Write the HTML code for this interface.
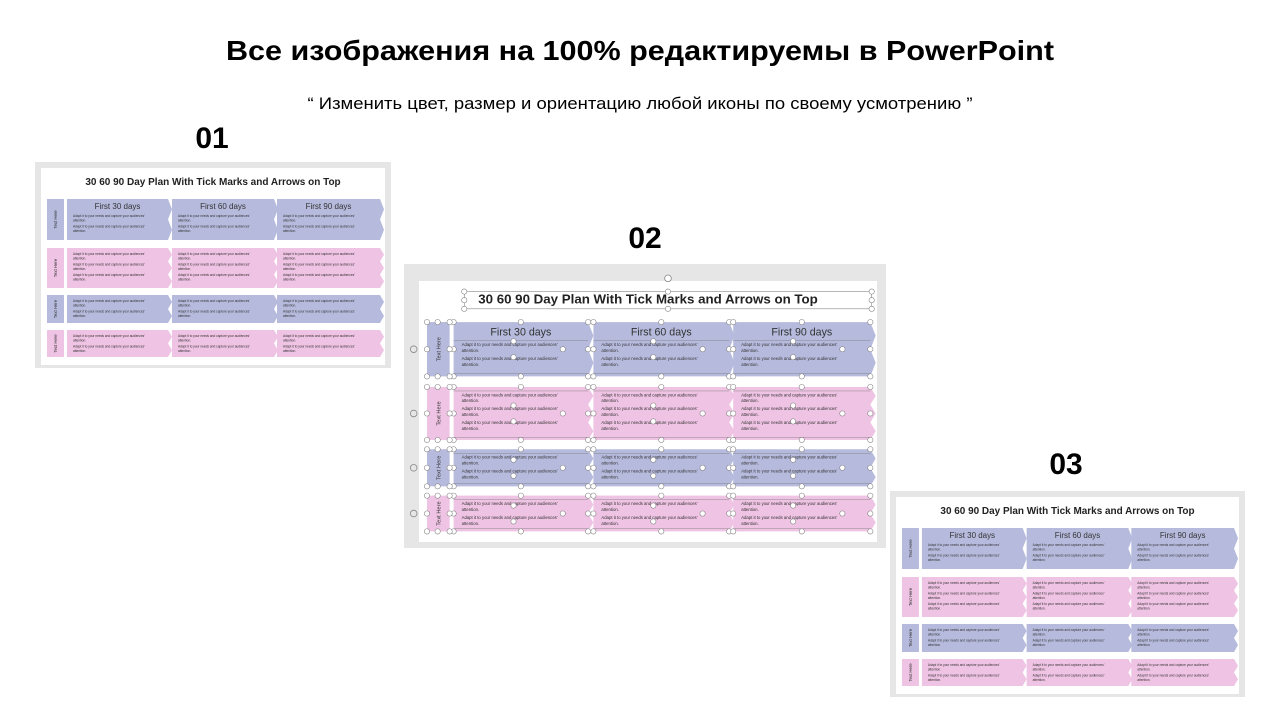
<!DOCTYPE html>
<html><head><meta charset="utf-8"><style>
html,body{margin:0;padding:0;background:#fff;width:1280px;height:720px;overflow:hidden}
svg{display:block}
</style></head><body>
<svg id="s" width="1280" height="720" xmlns="http://www.w3.org/2000/svg" font-family="'Liberation Sans', 'DejaVu Sans', sans-serif">
<text x="640" y="60" text-anchor="middle" font-size="28" font-weight="bold" textLength="828" lengthAdjust="spacingAndGlyphs">Все изображения на 100% редактируемы в PowerPoint</text>
<text x="640" y="109" text-anchor="middle" font-size="17" textLength="665" lengthAdjust="spacingAndGlyphs">“ Изменить цвет, размер и ориентацию любой иконы по своему усмотрению ”</text>
<text x="212" y="148" text-anchor="middle" font-size="30" font-weight="bold">01</text>
<text x="645" y="248" text-anchor="middle" font-size="30" font-weight="bold">02</text>
<text x="1066" y="474" text-anchor="middle" font-size="30" font-weight="bold">03</text>
<g id="g"></g>
</svg>
<script>
var NS="http://www.w3.org/2000/svg",G=document.getElementById('g');
function el(t,a,p,txt){var e=document.createElementNS(NS,t);for(var k in a)e.setAttribute(k,a[k]);if(txt)e.textContent=txt;(p||G).appendChild(e);return e;}
var rows=[[31,72,'#b6bbdd',2,true],[80,120,'#efc3e3',3,false],[127,155,'#b6bbdd',2,false],[162,189,'#efc3e3',2,false]];
var cols=[[26,127],[131,233],[236,339]];
function slide(ox,oy,ow,oh,ix,iy,iw,ih,handles){
  el('rect',{x:ox,y:oy,width:ow,height:oh,fill:'#e6e6e6'});
  el('rect',{x:ix,y:iy,width:iw,height:ih,fill:'#fff'});
  var sx=iw/344,sy=ih/197;
  var g=el('g',{transform:'translate('+ix+','+iy+') scale('+sx+','+sy+')'});
  el('text',{x:172,y:17,'text-anchor':'middle','font-size':10,'font-weight':'bold',fill:'#222'},g,'30 60 90 Day Plan With Tick Marks and Arrows on Top');
  rows.forEach(function(r){
    var y0=r[0],y1=r[1],c=r[2];
    el('rect',{x:6,y:y0,width:17,height:y1-y0,fill:c},g);
    var cy=(y0+y1)/2;
    el('text',{x:0,y:0,'font-size':4.3,'text-anchor':'middle',fill:'#333',transform:'translate(16,'+cy+') rotate(-90)'},g,'Text Here');
    cols.forEach(function(cc,ci){
      var x0=cc[0],x1=cc[1],n=r[3],h=(y1-y0)/n,pts=x0+','+y0+' ';
      for(var i=0;i<n;i++){pts+=x1+','+(y0+i*h)+' '+(x1+4)+','+(y0+i*h+h/2)+' '+x1+','+(y0+(i+1)*h)+' ';}
      pts+=x0+','+y1;
      el('polygon',{points:pts,fill:c},g);
      var ty=y0+7;
      if(r[4]){el('text',{x:(x0+x1)/2,y:y0+10,'text-anchor':'middle','font-size':8,fill:'#333'},g,'First '+[30,60,90][ci]+' days');ty=y0+18;}
      for(var k=0;k<n;k++){
        el('text',{x:x0+6,y:ty+k*10.5,'font-size':3.2,fill:'#333'},g,'Adapt it to your needs and capture your audiences’');
        el('text',{x:x0+6,y:ty+k*10.5+4.5,'font-size':3.2,fill:'#333'},g,'attention.');
      }
      if(handles){
        el('line',{x1:x0,y1:y0+ (r[4]?14:3),x2:x1,y2:y0+(r[4]?14:3),stroke:'#777','stroke-width':0.3},g);
        el('line',{x1:x0,y1:y1-2,x2:x1,y2:y1-2,stroke:'#777','stroke-width':0.3},g);
        [[x0,y0],[x1,y0],[x0,y1],[x1,y1],[(x0+x1)/2,y0],[(x0+x1)/2,y1],[x0,cy],[x1,cy],[x0+45,cy-6],[x0+45,cy+6],[x0+82,cy]].forEach(function(p){
          el('circle',{cx:p[0],cy:p[1],r:2,fill:'#fff',stroke:'#777','stroke-width':0.4},g);});
      }
    });
    if(handles){[[6,y0],[23,y0],[6,y1],[23,y1],[14,y0],[14,y1],[6,cy],[23,cy]].forEach(function(p){
      el('circle',{cx:p[0],cy:p[1],r:2,fill:'#fff',stroke:'#777','stroke-width':0.4},g);});
      el('circle',{cx:-4,cy:cy,r:2.5,fill:'none',stroke:'#888','stroke-width':0.6},g);}
  });
  if(handles){
    el('rect',{x:34,y:8,width:306,height:13,fill:'none',stroke:'#777','stroke-width':0.4},g);
    [[34,8],[340,8],[34,21],[340,21],[187,8],[187,21],[34,14.5],[340,14.5]].forEach(function(p){
      el('circle',{cx:p[0],cy:p[1],r:2,fill:'#fff',stroke:'#777','stroke-width':0.4},g);});
    el('circle',{cx:187,cy:-2,r:2.5,fill:'#fff',stroke:'#888','stroke-width':0.6},g);
  }
}
slide(35,162,356,206,41,168,344,197,false);
slide(404,264,482,284,419,281,458,261,true);
slide(890,491,355,206,896,497,343,197,false);
</script>
</body></html>
